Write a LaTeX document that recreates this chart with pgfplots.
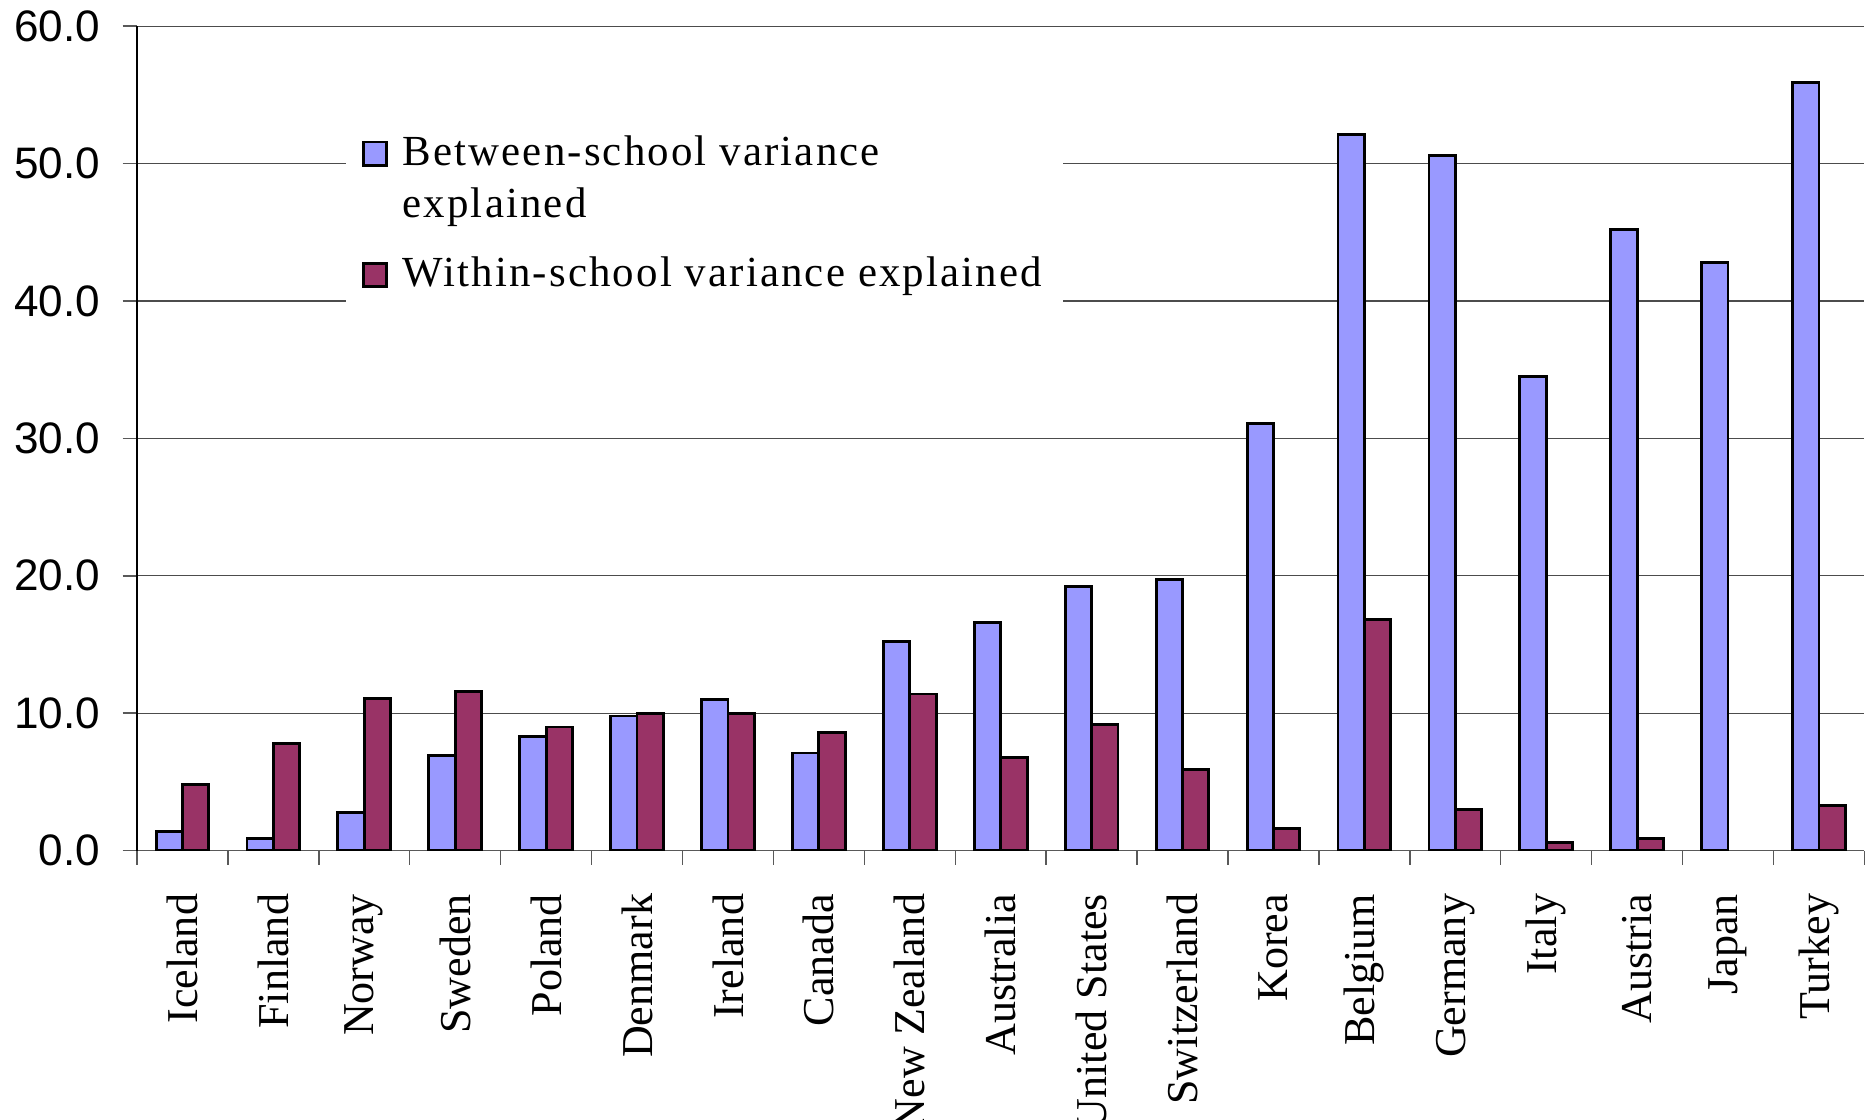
\documentclass[border=0pt]{standalone}
\usepackage{fontspec}
\setmainfont{Liberation Serif}
\newfontfamily\arial{Liberation Sans}
\newfontfamily\legfont[LetterSpace=5]{Liberation Serif}
\usepackage{pgfplots}
\pgfplotsset{compat=1.18}
\definecolor{xlblue}{HTML}{9999FF}
\definecolor{xlplum}{HTML}{993366}
\begin{document}
\begin{tikzpicture}
\begin{axis}[
    scale only axis,
    width=725pt, height=346pt,
    xmin=-0.5, xmax=18.5,
    ymin=0, ymax=60,
    axis lines*=left,
    x axis line style={gray!70!black, line width=0.6pt},
    y axis line style={black, line width=0.6pt},
    xtick={-0.5,0.5,...,18.5},
    xticklabels={},
    extra x ticks={0,...,18},
    extra x tick labels={Iceland,Finland,Norway,Sweden,Poland,Denmark,Ireland,Canada,New Zealand,Australia,United States,Switzerland,Korea,Belgium,Germany,Italy,Austria,Japan,Turkey},
    extra x tick style={major tick length=0pt, grid=none},
    ytick={0,10,...,60},
    tick align=outside,
    major tick length=6pt,
    every tick/.style={gray!70!black, line width=0.6pt},
    ymajorgrids,
    grid style={gray!60!black, line width=0.5pt},
    xticklabel style={rotate=90, anchor=east, inner xsep=18pt, font=\fontsize{18.5}{18.5}\selectfont},
    yticklabel style={xshift=-6pt, font=\arial\fontsize{18.5}{18.5}\selectfont},
    /pgf/number format/assume math mode=true,
    yticklabel={\pgfmathprintnumber[fixed,fixed zerofill,precision=1]{\tick}},
    ybar, bar width=0.29,
    legend style={at={(axis cs:1.79,53.3)}, anchor=north west, draw=none, fill=white,
        inner xsep=7pt, inner ysep=5pt, row sep=33pt,
        /tikz/every odd column/.append style={column sep=4pt},
        font=\legfont\fontsize{18}{22}\selectfont, cells={anchor=base west}},
    legend image code/.code={\draw[#1] (0pt,0pt) rectangle (9.7pt,9.7pt);},
]
\addplot[draw=black, line width=1.2pt, fill=xlblue, bar shift=-0.145] coordinates {
    (0,1.4) (1,0.9) (2,2.8) (3,6.9) (4,8.3) (5,9.8) (6,11.0) (7,7.1) (8,15.2) (9,16.6)
    (10,19.2) (11,19.7) (12,31.1) (13,52.1) (14,50.6) (15,34.5) (16,45.2) (17,42.8) (18,55.9)
};
\addlegendentry{\vtop{\hbox{Between-school variance}\hbox{explained}}}
\addplot[draw=black, line width=1.2pt, fill=xlplum, bar shift=0.145] coordinates {
    (0,4.8) (1,7.8) (2,11.1) (3,11.6) (4,9.0) (5,10.0) (6,10.0) (7,8.6) (8,11.4) (9,6.8)
    (10,9.2) (11,5.9) (12,1.6) (13,16.8) (14,3.0) (15,0.6) (16,0.9) (18,3.3)
};
\addlegendentry{Within-school variance explained}
\coordinate (bl) at (rel axis cs:0,0);
\coordinate (tr) at (rel axis cs:1,1);
\end{axis}
\pgfresetboundingbox
\path ([xshift=-57.5pt,yshift=-113pt]bl) rectangle ([xshift=1.5pt,yshift=11pt]tr);
\end{tikzpicture}
\end{document}
